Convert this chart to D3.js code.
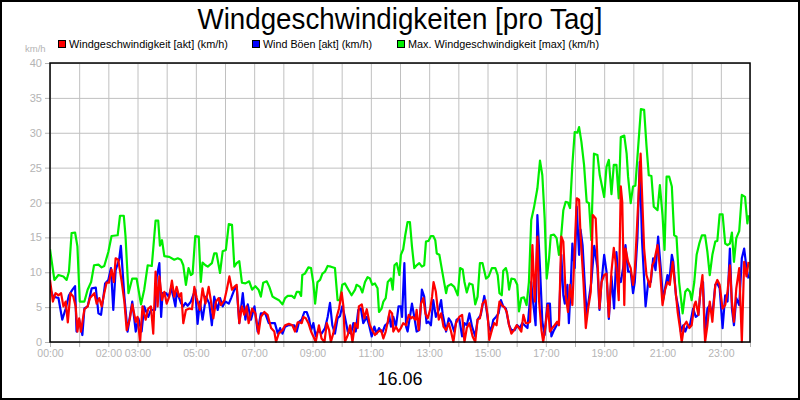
<!DOCTYPE html>
<html>
<head>
<meta charset="utf-8">
<script src="https://cdn.jsdelivr.net/npm/d3@7"></script>
<style>
  body { margin: 0; background: #fff; }
  svg { display: block; font-family: "Liberation Sans", Arial, sans-serif; }
</style>
</head>
<body>
<div id="chart"></div>
<script>
// Werte [Stunde, km/h]
let windAkt = [
  [0,8.9],[0.1,5.8],[0.19,7.0],[0.29,6.7],[0.38,7.0],[0.46,5.1],[0.54,5.8],[0.61,2.8],[0.7,7.0],[0.8,6.5],[0.88,5.1],[0.94,1.5],[1.0,3.4],[1.06,1.5],[1.18,4.7],[1.29,5.1],[1.37,6.3],[1.52,7.0],[1.6,5.5],[1.69,6.3],[1.77,5.1],[1.86,7.0],[1.94,8.5],[2.02,8.5],[2.11,10.4],[2.19,8.6],[2.25,12.0],[2.34,11.8],[2.46,8.6],[2.55,5.8],[2.63,1.7],[2.74,3.4],[2.82,5.4],[2.94,2.9],[3.0,3.6],[3.09,0],[3.17,5.1],[3.28,3.2],[3.37,4.8],[3.46,5.1],[3.54,1.2],[3.62,10.1],[3.69,5.1],
  [3.75,9.4],[3.84,6.0],[3.92,7.2],[4.0,5.5],[4.09,6.5],[4.18,8.8],[4.26,6.5],[4.34,7.9],[4.43,6.5],[4.5,7.0],[4.57,2.7],[4.66,4.6],[4.78,4.8],[4.87,4.7],[4.95,7.9],[5.03,6.3],[5.14,4.6],[5.23,7.7],[5.33,5.5],[5.44,7.9],[5.52,5.8],[5.6,3.4],[5.69,5.8],[5.78,6.3],[5.86,5.3],[5.98,6.0],[6.06,7.5],[6.15,9.4],[6.24,7.5],[6.32,7.9],[6.4,8.2],[6.49,2.7],[6.58,5.1],[6.66,3.9],[6.74,5.1],[6.81,2.7],[6.93,4.8],[7.04,4.1],[7.15,1.2],[7.23,3.6],[7.35,4.3],[7.46,3.9],[7.58,2.0],[7.69,1.5],
  [7.75,0],[7.84,1.2],[7.97,1.7],[8.06,2.4],[8.19,2.6],[8.31,2.4],[8.4,1.5],[8.49,2.8],[8.57,2.8],[8.63,2.7],[8.69,3.6],[8.77,3.4],[8.86,2.7],[8.95,1.5],[9.03,0.8],[9.11,0],[9.22,2.4],[9.31,0.5],[9.41,0],[9.49,2.7],[9.57,1.7],[9.63,0],[9.71,1.2],[9.83,3.6],[9.91,4.8],[10.0,7.1],[10.06,5.1],[10.11,0],[10.21,1.0],[10.29,2.4],[10.37,0],[10.46,2.7],[10.55,2.0],[10.59,5.1],[10.69,5.4],[10.78,3.4],[10.86,4.7],[10.97,2.4],[11.05,1.7],[11.14,1.0],[11.26,1.5],[11.35,1.7],[11.43,0.5],[11.51,1.5],[11.58,2.9],
  [11.65,4.5],[11.73,4.1],[11.77,1.5],[11.86,2.2],[11.95,1.5],[12.03,2.0],[12.11,2.7],[12.21,2.4],[12.3,3.9],[12.38,3.4],[12.43,3.6],[12.53,3.2],[12.57,4.6],[12.64,1.7],[12.72,5.5],[12.8,6.3],[12.87,4.1],[12.95,3.4],[13.03,4.6],[13.1,6.5],[13.15,8.6],[13.23,7.2],[13.33,3.2],[13.41,4.1],[13.49,2.2],[13.58,1.7],[13.67,2.7],[13.75,1.5],[13.83,0],[13.92,2.7],[14.03,3.6],[14.13,3.9],[14.21,0],[14.29,2.0],[14.38,2.7],[14.49,0.8],[14.58,0],[14.66,3.2],[14.74,3.4],[14.83,5.5],[14.93,6.0],[15.01,3.6],[15.06,0.3],[15.15,1.7],[15.23,2.7],[15.31,2.4],[15.41,5.8],[15.5,5.2],
  [15.58,5.0],[15.66,4.3],[15.74,2.4],[15.82,1.2],[15.91,1.7],[16.0,2.4],[16.08,2.0],[16.16,1.5],[16.23,3.9],[16.31,2.7],[16.39,2.7],[16.46,2.9],[16.54,13.9],[16.62,5.8],[16.71,15.1],[16.77,5.8],[16.85,1.7],[16.91,0],[16.99,2.4],[17.07,5.3],[17.14,1.5],[17.22,2.0],[17.3,2.4],[17.39,2.9],[17.45,2.4],[17.53,15.1],[17.6,14.4],[17.68,6.7],[17.76,4.3],[17.83,8.2],[17.91,5.3],[17.99,13.4],[18.06,20.6],[18.14,20.4],[18.19,15.3],[18.29,8.6],[18.37,2.0],[18.45,4.8],[18.54,7.2],[18.61,18.2],
  [18.71,17.7],[18.84,4.8],[18.91,8.6],[19.0,9.6],[19.08,9.8],[19.16,3.6],[19.25,10.1],[19.33,13.5],[19.42,10.6],[19.5,6.0],[19.57,22.3],[19.62,20.1],[19.69,5.3],[19.73,13.4],[19.82,11.5],[19.91,10.6],[19.99,8.2],[20.05,10.1],[20.14,17.7],[20.25,27.0],[20.3,21.1],[20.37,13.4],[20.45,9.6],[20.57,7.9],[20.65,11.0],[20.71,11.5],[20.83,13.9],[20.91,10.6],[21.0,5.3],
  [21.09,7.5],[21.17,8.6],[21.25,8.2],[21.35,11.5],[21.44,7.7],[21.52,4.3],[21.6,2.0],[21.66,0],[21.74,2.4],[21.82,2.9],[21.92,2.0],[22.0,2.4],[22.09,5.3],[22.14,5.8],[22.23,3.9],[22.31,7.7],[22.37,9.6],[22.46,0],[22.54,2.4],[22.62,5.8],[22.71,2.9],[22.81,8.2],[22.88,8.9],[22.96,8.2],[23.06,4.8],[23.15,5.3],[23.23,7.2],[23.31,11.0],[23.38,5.8],[23.45,2.9],[23.53,7.7],[23.63,10.6],[23.72,0],[23.8,11.5],[23.88,9.4],[23.95,11.5]
];

let boeenAkt = [
  [0,7.7],[0.11,6.5],[0.29,6.3],[0.42,3.2],[0.54,4.8],[0.65,6.7],[0.77,7.5],[0.86,8.0],[0.91,1.5],[1.0,3.2],[1.11,1.0],[1.18,4.8],[1.29,5.1],[1.43,7.7],[1.57,7.8],[1.66,4.1],[1.75,3.9],[1.89,8.4],[2.0,8.9],[2.09,10.6],[2.17,4.6],[2.25,10.3],[2.37,11.8],[2.43,13.8],[2.55,6.5],[2.66,1.5],[2.82,5.8],[2.94,1.5],[3.03,3.4],[3.14,1.5],[3.23,5.1],[3.37,3.6],[3.46,4.6],[3.6,4.6],[3.66,9.4],
  [3.75,11.3],[3.81,3.6],[3.86,7.0],[3.98,7.0],[4.07,6.5],[4.15,7.7],[4.23,6.5],[4.3,5.1],[4.34,7.0],[4.41,6.5],[4.49,5.6],[4.57,5.1],[4.64,5.6],[4.72,5.2],[4.83,5.8],[4.98,7.5],[5.06,2.6],[5.14,5.8],[5.23,3.2],[5.35,6.5],[5.46,5.5],[5.55,2.4],[5.63,6.5],[5.75,4.6],[5.83,6.3],[5.92,5.1],[6.01,5.8],[6.13,5.5],[6.21,6.3],[6.32,7.5],[6.4,7.9],[6.49,2.7],[6.61,7.0],[6.7,3.2],[6.78,5.4],[6.89,3.2],[7.01,5.1],[7.12,1.5],[7.23,4.1],[7.38,4.1],[7.5,2.7],[7.63,2.7],
  [7.71,2.7],[7.81,1.2],[7.89,2.0],[7.97,1.2],[8.06,2.2],[8.17,2.4],[8.29,2.4],[8.38,2.4],[8.46,1.5],[8.54,2.9],[8.63,3.2],[8.72,4.3],[8.8,4.3],[8.88,3.4],[8.95,1.7],[9.03,2.7],[9.11,0.8],[9.2,1.7],[9.31,1.2],[9.43,2.0],[9.52,3.6],[9.6,5.6],[9.68,2.4],[9.77,1.2],[9.86,3.4],[9.94,3.7],[10.02,5.1],[10.11,3.6],[10.21,1.5],[10.32,1.2],[10.4,2.7],[10.48,1.5],[10.57,4.6],[10.66,4.8],[10.74,2.7],[10.86,3.6],[10.94,2.4],[11.03,0.8],[11.12,2.2],[11.2,1.2],[11.28,2.0],[11.39,1.3],[11.49,2.4],[11.58,2.7],
  [11.63,3.9],[11.69,2.2],[11.77,3.6],[11.86,2.2],[11.95,5.1],[12.03,5.1],[12.07,3.6],[12.15,11.3],[12.21,2.2],[12.26,1.5],[12.34,3.6],[12.41,5.5],[12.49,3.6],[12.57,1.5],[12.66,1.7],[12.75,7.5],[12.83,6.5],[12.91,2.7],[12.98,2.9],[13.06,2.4],[13.14,6.0],[13.23,3.6],[13.33,4.6],[13.41,6.0],[13.46,4.1],[13.58,1.5],[13.67,3.4],[13.75,2.9],[13.86,1.5],[13.94,3.2],[14.03,3.4],[14.13,0.8],[14.21,2.7],[14.29,2.4],[14.38,4.1],[14.47,2.2],[14.58,0.8],[14.66,3.2],[14.77,3.9],[14.89,6.6],[14.95,5.1],[15.04,2.4],[15.12,1.5],[15.2,3.2],[15.29,3.6],[15.38,4.1],[15.46,6.0],[15.54,5.1],
  [15.63,4.8],[15.74,2.4],[15.82,1.7],[15.93,1.7],[16.02,2.4],[16.11,2.0],[16.19,2.7],[16.27,2.4],[16.37,2.0],[16.43,4.8],[16.5,8.6],[16.57,5.5],[16.65,2.4],[16.71,18.2],[16.8,10.6],[16.88,2.9],[16.96,1.0],[17.05,5.5],[17.14,5.5],[17.19,0.8],[17.28,1.7],[17.37,2.4],[17.45,2.9],[17.53,12.5],[17.6,6.7],[17.65,5.5],[17.74,8.2],[17.79,2.7],[17.85,7.7],[17.91,14.1],[17.99,10.6],[18.06,19.4],[18.14,12.5],[18.19,16.1],[18.26,13.9],[18.33,8.6],[18.4,3.9],[18.48,6.3],[18.56,8.6],
  [18.66,13.8],[18.77,10.6],[18.84,4.6],[18.91,8.6],[19.0,12.5],[19.08,10.1],[19.16,3.3],[19.25,9.4],[19.34,4.8],[19.42,12.9],[19.48,9.6],[19.57,8.6],[19.65,10.6],[19.73,13.9],[19.82,10.1],[19.91,10.1],[19.99,7.0],[20.05,8.6],[20.14,14.9],[20.22,25.8],[20.3,14.4],[20.42,5.1],[20.51,8.6],[20.6,8.6],[20.68,12.0],[20.76,10.3],[20.85,15.1],[20.94,10.6],[21.02,6.0],
  [21.09,7.7],[21.17,9.6],[21.23,8.6],[21.32,12.5],[21.37,11.5],[21.46,6.7],[21.55,4.8],[21.63,1.5],[21.71,2.4],[21.78,1.5],[21.86,2.4],[21.94,2.4],[22.05,4.8],[22.14,3.6],[22.23,3.9],[22.31,7.7],[22.39,8.6],[22.46,1.0],[22.54,4.8],[22.62,5.3],[22.71,3.9],[22.81,8.2],[22.88,8.4],[22.96,7.7],[23.06,2.0],[23.15,6.7],[23.23,5.8],[23.31,13.4],[23.38,4.8],[23.45,2.4],[23.53,6.3],[23.63,5.3],[23.72,12.0],[23.8,13.4],[23.88,10.6],[23.95,9.1]
];

let windMax = [
  [0,13.3],[0.15,8.9],[0.29,9.6],[0.46,9.4],[0.57,8.9],[0.65,10.1],[0.74,15.6],[0.86,15.7],[0.94,13.7],[1.02,5.8],[1.18,5.8],[1.29,7.5],[1.41,8.6],[1.51,11.0],[1.66,11.1],[1.77,10.7],[1.86,10.9],[2.0,12.9],[2.11,15.2],[2.32,15.3],[2.4,18.1],[2.53,18.1],[2.59,15.1],[2.69,7.0],[2.82,9.1],[2.97,9.1],[3.12,5.4],[3.23,7.5],[3.35,11.0],[3.49,10.9],[3.62,17.4],[3.71,17.4],
  [3.77,13.8],[3.84,14.6],[3.92,12.3],[4.09,12.2],[4.26,11.8],[4.38,12.0],[4.49,11.8],[4.57,11.0],[4.66,8.2],[4.75,10.6],[4.83,9.6],[4.89,9.8],[4.98,15.2],[5.1,15.1],[5.17,8.6],[5.23,11.4],[5.33,11.0],[5.41,10.8],[5.55,11.3],[5.63,12.7],[5.71,12.7],[5.83,9.9],[5.92,13.0],[6.03,13.2],[6.13,16.9],[6.24,16.8],[6.32,10.8],[6.4,11.3],[6.49,11.6],[6.58,8.5],[6.7,8.4],[6.83,8.7],[6.93,7.5],[7.04,8.0],[7.15,7.5],[7.23,6.5],[7.31,8.5],[7.43,8.7],[7.52,7.9],[7.63,6.5],
  [7.71,6.3],[7.85,6.0],[7.97,5.4],[8.06,6.3],[8.15,6.6],[8.29,6.6],[8.38,6.3],[8.46,7.2],[8.54,7.2],[8.61,6.6],[8.65,9.6],[8.74,9.8],[8.86,10.7],[8.95,10.6],[9.03,8.4],[9.09,5.5],[9.17,8.6],[9.26,8.9],[9.34,9.8],[9.43,10.1],[9.52,10.9],[9.63,10.8],[9.77,10.6],[9.86,6.0],[9.94,6.0],[10.02,8.2],[10.11,8.4],[10.23,7.5],[10.34,6.7],[10.46,7.5],[10.51,8.2],[10.63,7.9],[10.71,7.1],[10.8,8.6],[10.89,9.3],[10.97,9.1],[11.05,8.2],[11.14,8.4],[11.23,7.7],[11.28,4.3],[11.37,4.8],[11.43,5.8],[11.51,6.3],[11.58,8.6],
  [11.69,9.1],[11.75,7.5],[11.81,11.0],[11.89,11.3],[11.98,9.6],[12.03,12.5],[12.11,13.3],[12.18,15.3],[12.26,17.2],[12.34,17.2],[12.41,13.7],[12.49,10.6],[12.57,11.0],[12.66,11.3],[12.75,10.8],[12.83,11.0],[12.89,14.4],[12.98,14.5],[13.06,15.2],[13.14,15.2],[13.21,14.6],[13.26,12.7],[13.35,12.5],[13.44,10.3],[13.52,8.4],[13.58,7.0],[13.63,8.0],[13.75,8.3],[13.86,7.9],[13.98,6.7],[14.06,10.6],[14.15,10.4],[14.21,8.6],[14.29,7.1],[14.38,8.4],[14.49,8.2],[14.58,5.4],[14.66,6.5],[14.74,11.3],[14.83,11.3],[14.95,9.1],[15.04,9.4],[15.15,10.6],[15.27,10.6],[15.35,9.6],[15.41,7.0],[15.49,6.7],[15.54,10.2],
  [15.63,10.6],[15.68,9.8],[15.74,7.5],[15.82,9.1],[15.93,9.0],[16.02,8.2],[16.08,4.4],[16.16,6.3],[16.25,6.4],[16.34,5.3],[16.42,8.6],[16.5,17.5],[16.59,19.2],[16.71,22.0],[16.8,26.0],[16.88,23.9],[16.96,17.7],[17.03,9.1],[17.11,12.0],[17.17,15.3],[17.28,15.4],[17.37,14.9],[17.45,12.5],[17.51,14.4],[17.6,18.9],[17.68,20.1],[17.76,20.0],[17.83,19.2],[17.91,25.4],[17.99,30.1],[18.08,30.0],[18.14,30.8],[18.22,28.7],[18.31,25.4],[18.4,20.1],[18.48,19.9],[18.56,14.6],[18.59,19.6],
  [18.65,27.0],[18.77,26.8],[18.85,23.9],[19.0,20.8],[19.08,25.1],[19.16,26.1],[19.25,21.2],[19.33,25.4],[19.42,25.4],[19.5,20.6],[19.57,29.4],[19.69,29.6],[19.77,27.0],[19.82,23.7],[19.91,19.9],[19.99,22.3],[20.07,22.4],[20.17,28.2],[20.26,33.4],[20.37,33.3],[20.45,28.2],[20.53,23.9],[20.62,23.8],[20.7,19.4],[20.83,18.9],[20.91,22.5],[21.0,18.2],
  [21.07,13.2],[21.14,23.7],[21.23,23.7],[21.32,22.3],[21.4,15.3],[21.48,15.1],[21.57,8.6],[21.69,4.1],[21.78,7.2],[21.86,7.6],[21.94,7.2],[22.0,6.0],[22.09,8.6],[22.17,12.5],[22.26,14.1],[22.35,15.3],[22.46,15.3],[22.54,12.9],[22.62,9.6],[22.71,12.5],[22.81,14.4],[22.88,14.5],[22.96,18.3],[23.06,18.3],[23.15,14.1],[23.23,13.9],[23.31,14.1],[23.38,15.7],[23.45,11.5],[23.53,14.9],[23.63,15.9],[23.72,21.1],[23.83,20.8],[23.91,17.0],[23.95,18.2]
];

let seriesNames = ['Windgeschwindigkeit [akt] (km/h)', 'Wind Böen [akt] (km/h)', 'Max. Windgeschwindigkeit [max] (km/h)'];
let seriesColors = ['#ff0000', '#0000ff', '#00ee00'];
let yTicks = [0, 5, 10, 15, 20, 25, 30, 35, 40];
let hourTicks = d3.range(0, 25);
let hourLabels = {0: '00:00', 2: '02:00', 3: '03:00', 5: '05:00', 7: '07:00', 9: '09:00', 11: '11:00',
                  13: '13:00', 15: '15:00', 17: '17:00', 19: '19:00', 21: '21:00', 23: '23:00'};
let dayLabel = '16.06';

let W = 800, H = 400;
let margin = {top: 63, right: 50, bottom: 58, left: 50};
let width = W - margin.left - margin.right,
    height = H - margin.top - margin.bottom;

let svg = d3.select('#chart').append('svg')
    .attr('width', W)
    .attr('height', H);

svg.append('rect')
    .attr('x', 1).attr('y', 1)
    .attr('width', W - 2).attr('height', H - 2)
    .attr('fill', '#fff')
    .attr('stroke', '#000')
    .attr('stroke-width', 2);

// Titel
svg.append('text')
    .attr('x', 400).attr('y', 29)
    .attr('text-anchor', 'middle')
    .attr('font-size', 30)
    .attr('textLength', 405)
    .attr('lengthAdjust', 'spacingAndGlyphs')
    .text('Windgeschwindigkeiten [pro Tag]');

// Legende
let legendX = [58, 252, 397];
let legendLen = [159, 109, 191];
let legend = svg.append('g');
seriesNames.forEach(function(name, i) {
    legend.append('rect')
        .attr('x', legendX[i] + 0.5).attr('y', 40.5)
        .attr('width', 7).attr('height', 7)
        .attr('fill', seriesColors[i])
        .attr('stroke', '#000')
        .attr('stroke-width', 1);
    legend.append('text')
        .attr('x', legendX[i] + 11).attr('y', 48)
        .attr('font-size', 10.5)
        .attr('textLength', legendLen[i])
        .attr('lengthAdjust', 'spacingAndGlyphs')
        .text(name);
});

svg.append('text')
    .attr('x', 25).attr('y', 52)
    .attr('font-size', 9.5)
    .attr('fill', '#b4b4b4')
    .text('km/h');

let chart = svg.append('g')
    .attr('transform', 'translate(' + margin.left + ',' + margin.top + ')');

let x = d3.scaleLinear().domain([0, 24]).range([0, width]);
let y = d3.scaleLinear().domain([0, 40]).range([height, 0]);

// Gitter
chart.append('g')
    .call(d3.axisLeft(y).tickValues(yTicks).tickSize(-width).tickFormat(''))
    .call(function(g) {
        g.select('.domain').remove();
        g.selectAll('.tick line').attr('stroke', '#c0c0c0');
    });

chart.append('g')
    .attr('transform', 'translate(0,' + height + ')')
    .call(d3.axisBottom(x).tickValues(hourTicks).tickSize(-height).tickFormat(''))
    .call(function(g) {
        g.select('.domain').remove();
        g.selectAll('.tick line').attr('stroke', '#c0c0c0');
    });

// Achsen mit Beschriftung
chart.append('g')
    .call(d3.axisLeft(y).tickValues(yTicks).tickSize(5).tickPadding(3))
    .call(function(g) {
        g.select('.domain').remove();
        g.selectAll('.tick line').attr('stroke', '#b4b4b4');
        g.selectAll('.tick text')
            .attr('fill', '#b4b4b4')
            .attr('font-size', 11)
            .attr('font-family', '"Liberation Sans", Arial, sans-serif');
    });

chart.append('g')
    .attr('transform', 'translate(0,' + height + ')')
    .call(d3.axisBottom(x).tickValues(hourTicks).tickSize(5).tickPadding(3)
        .tickFormat(function(d) { return hourLabels[d] || ''; }))
    .call(function(g) {
        g.select('.domain').remove();
        g.selectAll('.tick line').attr('stroke', '#b4b4b4');
        g.selectAll('.tick text')
            .attr('fill', '#b4b4b4')
            .attr('font-size', 10.5)
            .attr('font-family', '"Liberation Sans", Arial, sans-serif');
    });

chart.append('clipPath').attr('id', 'clip')
    .append('rect').attr('width', width).attr('height', height + 2).attr('y', -1);

let line = d3.line()
    .x(d => x(d[0]))
    .y(d => y(d[1]));

let plot = chart.append('g').attr('clip-path', 'url(#clip)');
[windMax, boeenAkt, windAkt].forEach(function(data, i) {
    plot.append('path')
        .datum(data)
        .attr('fill', 'none')
        .attr('stroke', seriesColors[2 - i])
        .attr('stroke-width', 2.2)
        .attr('stroke-linejoin', 'round')
        .attr('d', line);
});

// Rahmen
chart.append('rect')
    .attr('width', width).attr('height', height)
    .attr('fill', 'none')
    .attr('stroke', '#000')
    .attr('stroke-width', 1.5);

svg.append('text')
    .attr('x', 400).attr('y', 385)
    .attr('text-anchor', 'middle')
    .attr('font-size', 18)
    .text(dayLabel);
</script>
</body>
</html>
